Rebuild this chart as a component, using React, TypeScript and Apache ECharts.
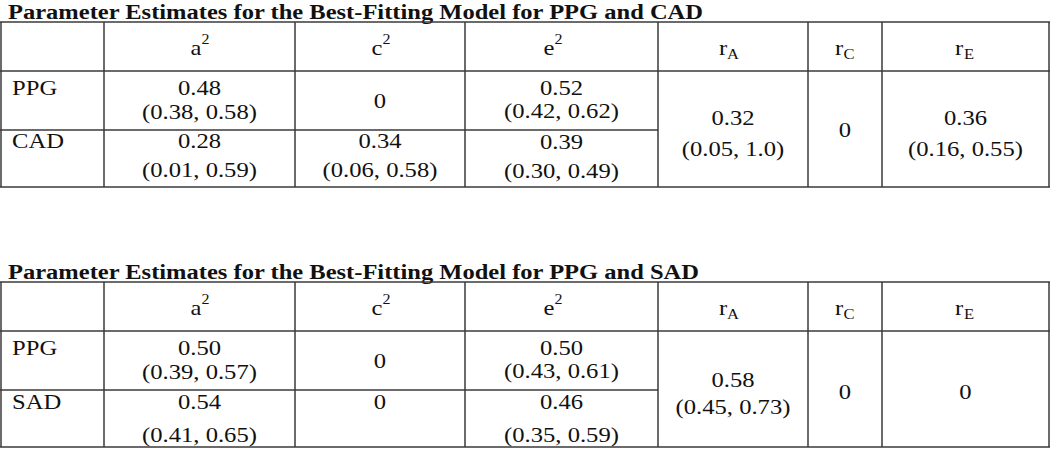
import React, { useEffect, useRef } from "react";
import * as echarts from "echarts";

// ---- Data ----
const titles = [
  "Parameter Estimates for the Best-Fitting Model for PPG and CAD",
  "Parameter Estimates for the Best-Fitting Model for PPG and SAD",
];
const headerBase = ["a", "c", "e", "r", "r", "r"];
const headerSup = ["2", "2", "2", "", "", ""];
const headerSub = ["", "", "", "A", "C", "E"];

const t1RowLabels = ["PPG", "CAD"];
const t1A2 = [["0.48", "(0.38, 0.58)"], ["0.28", "(0.01, 0.59)"]];
const t1C2 = [["0"], ["0.34", "(0.06, 0.58)"]];
const t1E2 = [["0.52", "(0.42, 0.62)"], ["0.39", "(0.30, 0.49)"]];
const t1RA = ["0.32", "(0.05, 1.0)"];
const t1RC = ["0"];
const t1RE = ["0.36", "(0.16, 0.55)"];

const t2RowLabels = ["PPG", "SAD"];
const t2A2 = [["0.50", "(0.39, 0.57)"], ["0.54", "(0.41, 0.65)"]];
const t2C2 = [["0"], ["0"]];
const t2E2 = [["0.50", "(0.43, 0.61)"], ["0.46", "(0.35, 0.59)"]];
const t2RA = ["0.58", "(0.45, 0.73)"];
const t2RC = ["0"];
const t2RE = ["0"];

// ---- Layout ----
const FONT = '"Liberation Serif", "Times New Roman", serif';
const SX = 1.145;
const FS = 21.5;
const INK = "#111";
const LINE = "#3a3a3a";
const colX = [1, 104, 295, 465, 658, 808, 882, 1049];
const headerCenters = [200, 381, 553, 729, 845, 965];

function txt(s: string, x: number, y: number, o: any = {}) {
  const align = o.align || "center";
  return {
    type: "text",
    x,
    y,
    scaleX: o.sx ?? SX,
    silent: true,
    style: {
      text: s,
      fontFamily: FONT,
      fontSize: o.fs || FS,
      fontWeight: o.bold ? "bold" : "normal",
      fill: INK,
      align,
      textAlign: align,
      verticalAlign: "middle",
      textVerticalAlign: "middle",
    },
  };
}

function line(x1: number, y1: number, x2: number, y2: number) {
  return {
    type: "line",
    silent: true,
    shape: { x1, y1, x2, y2 },
    style: { stroke: LINE, lineWidth: 1.5 },
  };
}

function buildTable(
  T: number,
  title: string,
  rowLabels: string[],
  a2: string[][],
  c2: string[][],
  e2: string[][],
  rA: string[],
  rC: string[],
  rE: string[],
  ys: any
) {
  const els: any[] = [];
  const top = T + 22, hb = T + 71, mid = T + 130, bot = T + ys.bottom;
  els.push(txt(title, 8, T + 11, { align: "left", bold: true, fs: 22, sx: 1.115 }));
  els.push(line(0, top, 1050, top));
  els.push(line(0, hb, 1050, hb));
  els.push(line(0, mid, colX[4], mid));
  els.push(line(0, bot, 1050, bot));
  colX.forEach((x) => els.push(line(x, top, x, bot)));
  // headers
  headerBase.forEach((b, i) => {
    const baseW = (b === "r" ? 0.333 : 0.444) * FS * SX;
    const extra = headerSup[i] ? 0.5 * 14 * SX : 0.7 * 14.5 * SX;
    const total = baseW + extra;
    const left = headerCenters[i] - total / 2;
    els.push(txt(b, left + baseW / 2, T + 48));
    if (headerSup[i]) els.push(txt(headerSup[i], left + baseW + 4, T + 39.5, { fs: 14 }));
    if (headerSub[i]) els.push(txt(headerSub[i], left + baseW + extra / 2, T + 54, { fs: 14.5 }));
  });
  // row labels
  rowLabels.forEach((l, r) => els.push(txt(l, 12, T + ys.label[r], { align: "left" })));
  const cell = (vals: string[], cx: number, yy: number[]) =>
    vals.forEach((v, k) => els.push(txt(v, cx, T + yy[k])));
  const cA = (colX[1] + colX[2]) / 2, cC = (colX[2] + colX[3]) / 2, cE = (colX[3] + colX[4]) / 2;
  a2.forEach((v, r) => cell(v, cA, ys.a2[r]));
  c2.forEach((v, r) => cell(v, cC, ys.c2[r]));
  e2.forEach((v, r) => cell(v, cE, ys.e2[r]));
  cell(rA, (colX[4] + colX[5]) / 2, ys.rA);
  cell(rC, (colX[5] + colX[6]) / 2, ys.rC);
  cell(rE, (colX[6] + colX[7]) / 2, ys.rE);
  return els;
}

export default function App() {
  const ref = useRef<HTMLDivElement>(null);
  useEffect(() => {
    document.body.style.margin = "0";
    const chart = echarts.init(ref.current!, null, { renderer: "svg" });
    const y1 = {
      bottom: 187,
      label: [88, 141],
      a2: [[88, 112], [141, 170]],
      c2: [[101], [141, 170]],
      e2: [[88, 111], [142, 171]],
      rA: [118, 149],
      rC: [130],
      rE: [118, 149],
    };
    const y2 = {
      bottom: 187,
      label: [88, 142],
      a2: [[88, 112], [142, 175]],
      c2: [[101], [142]],
      e2: [[88, 111], [142, 175]],
      rA: [120, 147],
      rC: [132],
      rE: [132],
    };
    const elements = [
      ...buildTable(0, titles[0], t1RowLabels, t1A2, t1C2, t1E2, t1RA, t1RC, t1RE, y1),
      ...buildTable(260, titles[1], t2RowLabels, t2A2, t2C2, t2E2, t2RA, t2RC, t2RE, y2),
    ];
    chart.setOption({
      animation: false,
      backgroundColor: "#fff",
      graphic: { elements },
    });
    return () => chart.dispose();
  }, []);
  return <div ref={ref} style={{ width: 1050, height: 449 }} />;
}
